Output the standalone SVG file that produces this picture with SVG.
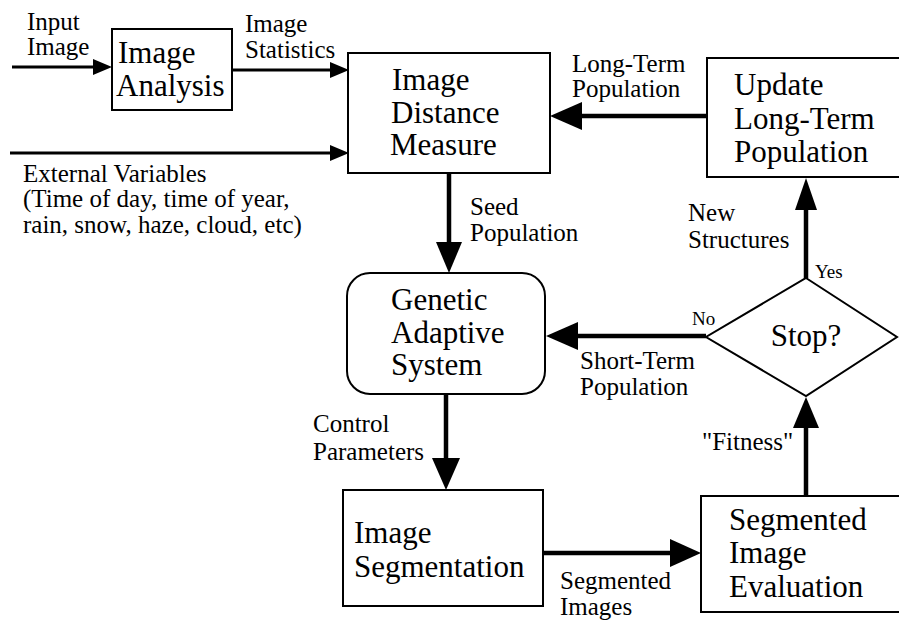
<svg xmlns="http://www.w3.org/2000/svg" width="899" height="620" viewBox="0 0 899 620" font-family="Liberation Serif, DejaVu Serif, serif">
  <style>
    .box { fill: #fff; stroke: #000; stroke-width: 2; }
    .node { font-size: 31px; }
    .lbl { font-size: 25px; }
    .sm { font-size: 19px; }
    .thin { stroke: #000; stroke-width: 3; fill: none; }
    .thick { stroke: #000; stroke-width: 4.5; fill: none; }
    .head { fill: #000; stroke: none; }
  </style>
  <rect width="899" height="620" fill="#fff"/>

  <!-- connectors: shafts and filled arrowheads -->
  <g id="connectors">
    <!-- input image into analysis -->
    <line class="thin" x1="12" y1="67" x2="96" y2="67"/>
    <polygon class="head" points="112,67 93,59 93,75"/>
    <!-- image statistics -->
    <line class="thin" x1="232" y1="70" x2="333" y2="70"/>
    <polygon class="head" points="349,70 330,62 330,78"/>
    <!-- external variables -->
    <line class="thin" x1="10" y1="153" x2="333" y2="153"/>
    <polygon class="head" points="349,153 330,145 330,161"/>
    <!-- long-term population back to distance measure -->
    <line class="thick" x1="707" y1="116" x2="578" y2="116"/>
    <polygon class="head" points="550,116 582,102 582,130"/>
    <!-- seed population -->
    <line class="thick" x1="449" y1="173" x2="449" y2="245"/>
    <polygon class="head" points="449,273 436,242 462,242"/>
    <!-- short-term population -->
    <line class="thick" x1="706" y1="336" x2="574" y2="336"/>
    <polygon class="head" points="546,336 578,322 578,350"/>
    <!-- control parameters -->
    <line class="thick" x1="446" y1="394" x2="446" y2="462"/>
    <polygon class="head" points="446,490 432,458 460,458"/>
    <!-- segmented images -->
    <line class="thick" x1="543" y1="553" x2="674" y2="553"/>
    <polygon class="head" points="701,553 670,539 670,567"/>
    <!-- fitness up to the decision -->
    <line class="thick" x1="806" y1="496" x2="806" y2="424"/>
    <polygon class="head" points="806,397 793,428 819,428"/>
    <!-- new structures up to the update box -->
    <line class="thick" x1="806" y1="278" x2="806" y2="206"/>
    <polygon class="head" points="806,178 795,210 817,210"/>
  </g>

  <g id="image-analysis">
    <rect class="box" x="112" y="29" width="120" height="81"/>
    <text class="node" x="118" y="63">Image</text>
    <text class="node" x="116" y="96">Analysis</text>
  </g>

  <g id="image-distance-measure">
    <rect class="box" x="348" y="53" width="202" height="120"/>
    <text class="node" x="392" y="90">Image</text>
    <text class="node" x="391" y="123">Distance</text>
    <text class="node" x="390" y="155">Measure</text>
  </g>

  <!-- right-hand boxes run past the page edge -->
  <g id="update-long-term-population">
    <rect class="box" x="707" y="58" width="200" height="119"/>
    <text class="node" x="734" y="95">Update</text>
    <text class="node" x="734" y="129">Long-Term</text>
    <text class="node" x="734" y="162">Population</text>
  </g>

  <g id="genetic-adaptive-system">
    <rect class="box" x="347" y="273" width="198" height="121" rx="23" ry="23"/>
    <text class="node" x="391" y="310">Genetic</text>
    <text class="node" x="391" y="343">Adaptive</text>
    <text class="node" x="391" y="375">System</text>
  </g>

  <g id="stop-decision">
    <polygon class="box" points="806,278 897,337 806,396 706,337"/>
    <text class="node" x="806" y="346" text-anchor="middle">Stop?</text>
  </g>

  <g id="image-segmentation">
    <rect class="box" x="343" y="490" width="200" height="116"/>
    <text class="node" x="354" y="543">Image</text>
    <text class="node" x="354" y="577">Segmentation</text>
  </g>

  <g id="segmented-image-evaluation">
    <rect class="box" x="701" y="496" width="206" height="116"/>
    <text class="node" x="729" y="530">Segmented</text>
    <text class="node" x="729" y="563">Image</text>
    <text class="node" x="729" y="597">Evaluation</text>
  </g>

  <!-- connector labels -->
  <g id="labels">
    <text class="lbl" x="27" y="30">Input</text>
    <text class="lbl" x="27" y="55">Image</text>
    <text class="lbl" x="245" y="32">Image</text>
    <text class="lbl" x="245" y="58">Statistics</text>
    <text class="lbl" x="23" y="182">External Variables</text>
    <text class="lbl" x="23" y="207">(Time of day, time of year,</text>
    <text class="lbl" x="23" y="233">rain, snow, haze, cloud, etc)</text>
    <text class="lbl" x="572" y="72">Long-Term</text>
    <text class="lbl" x="572" y="97">Population</text>
    <text class="lbl" x="470" y="215">Seed</text>
    <text class="lbl" x="470" y="241">Population</text>
    <text class="lbl" x="688" y="221">New</text>
    <text class="lbl" x="688" y="248">Structures</text>
    <text class="sm" x="815" y="278">Yes</text>
    <text class="sm" x="692" y="325">No</text>
    <text class="lbl" x="580" y="369">Short-Term</text>
    <text class="lbl" x="580" y="395">Population</text>
    <text class="lbl" x="313" y="432">Control</text>
    <text class="lbl" x="313" y="460">Parameters</text>
    <text class="lbl" x="702" y="450">"Fitness"</text>
    <text class="lbl" x="560" y="589">Segmented</text>
    <text class="lbl" x="560" y="615">Images</text>
  </g>
</svg>
